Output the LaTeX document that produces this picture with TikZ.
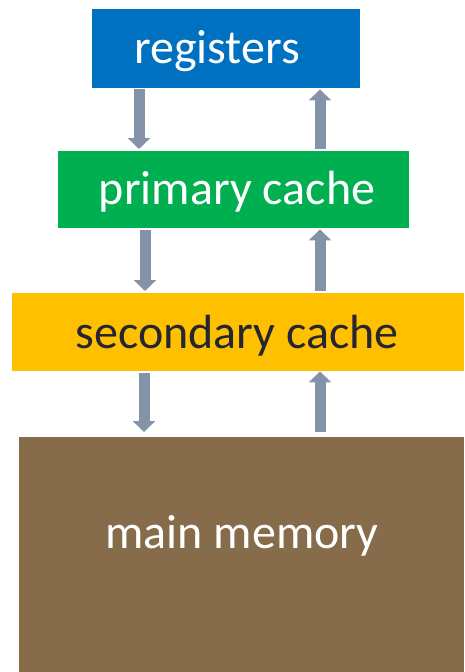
\documentclass[tikz,border=0pt]{standalone}
\usepackage{fontspec}
\setmainfont{Carlito}
\usetikzlibrary{arrows.meta}
\definecolor{regblue}{HTML}{0070C0}
\definecolor{cachegreen}{HTML}{00B050}
\definecolor{cacheyellow}{HTML}{FFC000}
\definecolor{membrown}{HTML}{866C4A}
\definecolor{flowgray}{HTML}{8493A8}
\definecolor{darktext}{HTML}{262633}

\begin{document}
\begin{tikzpicture}[x=1pt,y=-1pt,
    level/.style={rectangle,inner sep=0pt,anchor=north west},
    levtext/.style={anchor=base,font=\fontsize{48}{52}\selectfont},
    flow/.style={flowgray,line width=11pt,-{Triangle[length=11pt,width=22pt]}}]
  \useasboundingbox (0,0) rectangle (464,672);
  \node[level,fill=regblue,minimum width=268pt,minimum height=79pt] (reg) at (92,9) {};
  \node[level,fill=cachegreen,minimum width=351pt,minimum height=77pt] (pri) at (58,151) {};
  \node[level,fill=cacheyellow,minimum width=452pt,minimum height=78pt] (sec) at (12,293) {};
  \node[level,fill=membrown,minimum width=445pt,minimum height=235pt] (mem) at (19,437) {};
  \node[levtext,text=white] (regtxt) at (217,63) {registers};
  \node[levtext,text=white] (pritxt) at (237,204) {primary cache};
  \node[levtext,text=darktext] (sectxt) at (237,348) {secondary cache};
  \node[levtext,text=white] (memtxt) at (242,548) {main memory};
  % down and up between the levels
  \draw[flow,shorten <=1pt,shorten >=2pt] (reg.south -| 139,0) -- (pri.north -| 139,0);
  \draw[flow,shorten <=2pt,shorten >=1pt] (pri.north -| 320,0) -- (reg.south -| 320,0);
  \draw[flow,shorten <=2pt,shorten >=2pt] (pri.south -| 145,0) -- (sec.north -| 145,0);
  \draw[flow,shorten <=2pt,shorten >=1pt] (sec.north -| 320,0) -- (pri.south -| 320,0);
  \draw[flow,shorten <=2pt,shorten >=5pt] (sec.south -| 144,0) -- (mem.north -| 144,0);
  \draw[flow,shorten <=5pt,shorten >=0pt] (mem.north -| 320,0) -- (sec.south -| 320,0);
\end{tikzpicture}
\end{document}
